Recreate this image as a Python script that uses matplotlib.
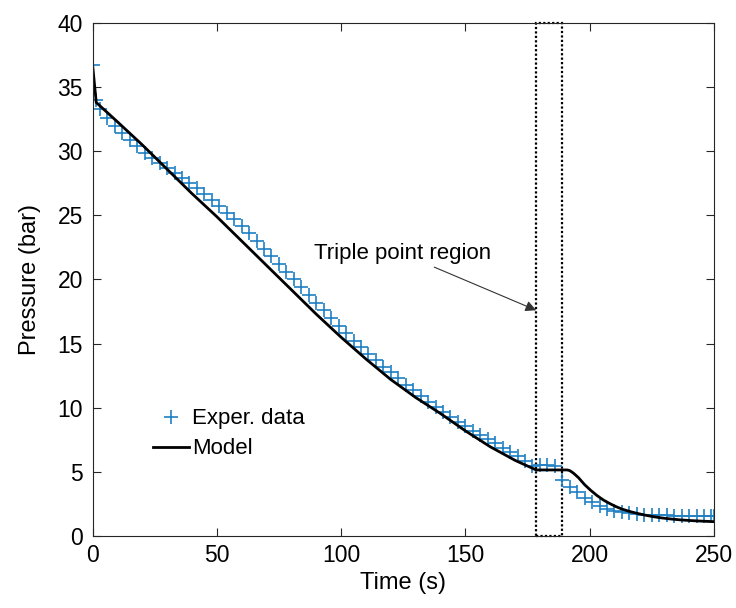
import numpy as np
import matplotlib
matplotlib.use("Agg")
import matplotlib.pyplot as plt
from matplotlib.patches import Rectangle

plt.rcParams['font.family'] = ['Liberation Sans', 'DejaVu Sans']

# experimental data (time in s, pressure in bar)
t_exp = [0, 1.5, 3, 6, 9, 12, 15, 18, 21, 24, 27, 30, 33, 36, 39, 42, 45, 48,
         51, 54, 57, 60, 63, 66, 69, 72, 75, 78, 81, 84, 87, 90, 93, 96, 99,
         102, 105, 108, 111, 114, 117, 120, 123, 126, 129, 132, 135, 138, 141,
         144, 147, 150, 153, 156, 159, 162, 165, 168, 171, 174, 177, 180, 183,
         186, 189, 192, 195, 198, 201, 204, 207, 210, 213, 216, 219, 222, 225,
         228, 231, 234, 237, 240, 243, 246, 249, 250]
p_exp = [36.7, 34.0, 33.3, 32.6, 32.0, 31.4, 30.9, 30.4, 29.9, 29.5, 29.1, 28.7,
         28.3, 27.9, 27.5, 27.1, 26.7, 26.2, 25.7, 25.2, 24.7, 24.2, 23.6, 23.0,
         22.4, 21.8, 21.2, 20.6, 20.0, 19.4, 18.8, 18.2, 17.6, 17.0, 16.4, 15.8,
         15.2, 14.7, 14.2, 13.7, 13.2, 12.8, 12.3, 11.8, 11.35, 10.9, 10.45,
         10.05, 9.65, 9.25, 8.9, 8.55, 8.2, 7.9, 7.6, 7.25, 6.9, 6.55, 6.2, 5.85,
         5.45, 5.5, 5.55, 5.45, 4.4, 3.8, 3.4, 3.0, 2.65, 2.35, 2.1, 1.95, 1.85,
         1.77, 1.7, 1.65, 1.62, 1.6, 1.6, 1.58, 1.58, 1.57, 1.57, 1.56, 1.56, 1.56]

# model curve
t_mod = [0, 1.5, 10, 20, 30, 40, 50, 60, 70, 80, 90, 100, 110, 120, 130, 140,
         150, 160, 170, 178.5, 191, 192, 193.5, 195.5, 198, 200.5, 203, 205.5,
         208, 210.5, 213, 216, 219, 222, 225.5, 229, 233, 237, 241, 245, 250]
p_mod = [36.8, 33.8, 32.3, 30.5, 28.6, 26.7, 24.9, 23.0, 21.1, 19.2, 17.3, 15.5,
         13.8, 12.2, 10.8, 9.55, 8.2, 6.96, 5.9, 5.15, 5.15, 5.1, 4.9, 4.55,
         4.0, 3.55, 3.15, 2.81, 2.54, 2.3, 2.1, 1.92, 1.77, 1.64, 1.51, 1.41,
         1.32, 1.25, 1.2, 1.16, 1.12]

# triple point region limits
tp_start = 178.5
tp_end = 189

fig = plt.figure(figsize=(7.36, 6.08), dpi=100)
ax = fig.add_axes([0.1257, 0.1184, 0.8443, 0.8438])

ax.plot(t_exp, p_exp, '+', color='#1f7fc4', markersize=10.5, mew=1.2,
        label='Exper. data')
ax.plot(t_mod, p_mod, '-', color='black', lw=2, label='Model')

rect = Rectangle((tp_start, 0), tp_end - tp_start, 40, fill=False,
                 edgecolor='black', linestyle=(0, (1, 1)), lw=1.6, clip_on=False)
ax.add_patch(rect)

ax.annotate('Triple point region', xy=(tp_start, 17.6), xytext=(160.5, 22.0),
            fontsize=16, ha='right', va='center',
            arrowprops=dict(arrowstyle='-|>', color='#333333', lw=0.8,
                            mutation_scale=16, shrinkA=0, shrinkB=0))

ax.set_xlim(0, 250)
ax.set_ylim(0, 40)
ax.set_xticks([0, 50, 100, 150, 200, 250])
ax.set_yticks([0, 5, 10, 15, 20, 25, 30, 35, 40])
ax.tick_params(direction='in', top=True, right=True, labelsize=16.5,
               length=6, width=0.8, colors='#262626', labelcolor='black')
ax.tick_params(axis='y', pad=7)
ax.tick_params(axis='x', pad=6)
for s in ax.spines.values():
    s.set_linewidth(0.8)
    s.set_color('#262626')

ax.set_xlabel('Time (s)', fontsize=17, labelpad=3)
ax.set_ylabel('Pressure (bar)', fontsize=17, labelpad=12)

ax.legend(loc='center left', bbox_to_anchor=(0.080, 0.199), frameon=False,
          borderpad=0, fontsize=16, handlelength=1.6, handletextpad=0.15,
          labelspacing=0.4)

fig.savefig('out.png', dpi=100)
